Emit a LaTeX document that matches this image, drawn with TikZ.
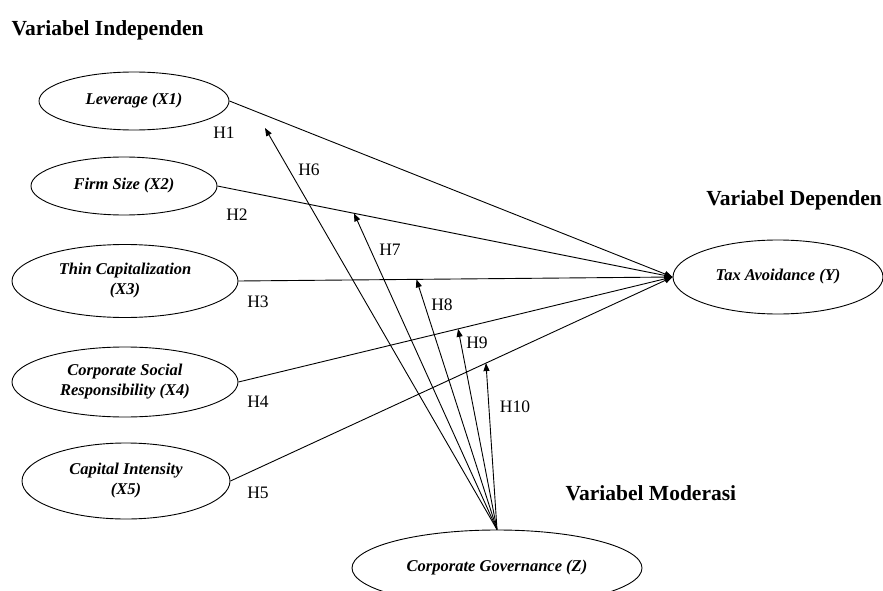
\documentclass[tikz,border=0pt]{standalone}
\usepackage{fontspec}
\setmainfont{Liberation Serif}
\usetikzlibrary{shapes.geometric,arrows.meta}
\begin{document}
\begin{tikzpicture}[x=1pt,y=-1pt,
  var/.style={draw,ellipse,line width=0.9pt,inner sep=0pt,align=center,font=\fontsize{16.5}{20}\selectfont\bfseries\itshape},
  conn/.style={line width=0.9pt,-{Triangle[length=8pt,width=6pt]}},
  hlab/.style={font=\fontsize{17.5}{20}\selectfont},
  ttl/.style={font=\fontsize{21.5}{24}\selectfont\bfseries,anchor=west}]
\clip (0,0) rectangle (883,591);
\fill[white] (0,0) rectangle (883,591);
\node[ttl] (t1) at (8,30) {Variabel Independen};
\node[ttl,anchor=east,inner xsep=1pt] (t2) at (883,200) {Variabel Dependen};
\node[ttl] (t3) at (562,493) {Variabel Moderasi};
\node[var,minimum width=190pt,minimum height=58pt] (x1) at (134,101) {Leverage (X1)};
\node[var,minimum width=186pt,minimum height=58pt] (x2) at (124,186) {Firm Size (X2)};
\node[var,minimum width=226pt,minimum height=73pt] (x3) at (125,281) {Thin Capitalization\\(X3)};
\node[var,minimum width=226pt,minimum height=70pt] (x4) at (125,382) {Corporate Social\\Responsibility (X4)};
\node[var,minimum width=208pt,minimum height=76pt] (x5) at (126,481) {Capital Intensity\\(X5)};
\node[var,minimum width=210pt,minimum height=74pt] (y) at (778,277) {Tax Avoidance (Y)};
\node[var,minimum width=290pt,minimum height=76pt] (z) at (497,568) {Corporate Governance (Z)};
\draw[conn] (x1.east) -- (y.west);
\draw[conn] (x2.east) -- coordinate[pos=0.30] (m7) (y.west);
\draw[conn] (x3.east) -- coordinate[pos=0.41] (m8) (y.west);
\draw[conn] (x4.east) -- coordinate[pos=0.506] (m9) (y.west);
\draw[conn] (x5.east) -- coordinate[pos=0.578] (m10) (y.west);
\coordinate (m6) at (265,128);
\draw[conn] (z.north) -- (m6);
\draw[conn] (z.north) -- (m7);
\draw[conn] (z.north) -- (m8);
\draw[conn] (z.north) -- (m9);
\draw[conn] (z.north) -- (m10);
\node[hlab] (h1) at (224,133) {H1};
\node[hlab] (h2) at (237,215) {H2};
\node[hlab] (h3) at (258,302) {H3};
\node[hlab] (h4) at (258,402) {H4};
\node[hlab] (h5) at (258,493) {H5};
\node[hlab] (h6) at (309,170) {H6};
\node[hlab] (h7) at (390,250) {H7};
\node[hlab] (h8) at (442,305) {H8};
\node[hlab] (h9) at (477,343) {H9};
\node[hlab] (h10) at (515,407) {H10};
\end{tikzpicture}
\end{document}
